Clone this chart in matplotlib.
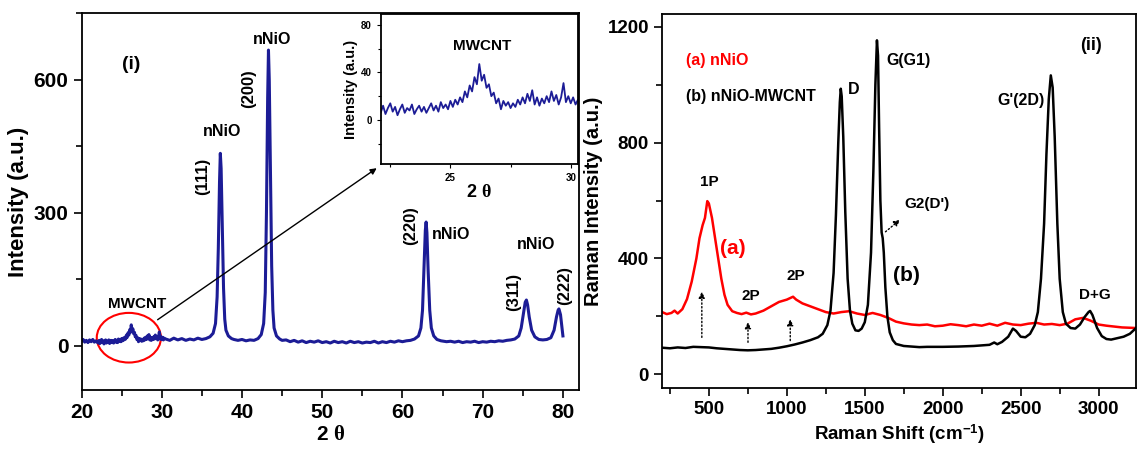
import numpy as np
import matplotlib
matplotlib.use('Agg')
import matplotlib.pyplot as plt
from matplotlib.patches import Ellipse
from matplotlib.ticker import MultipleLocator

plt.rcParams.update({
    'font.family': ['Liberation Sans', 'DejaVu Sans'],
    'font.weight': 'bold',
    'axes.labelweight': 'bold',
    'mathtext.fontset': 'custom',
    'mathtext.rm': 'Liberation Sans:bold',
    'mathtext.bf': 'Liberation Sans:bold',
    'mathtext.it': 'Liberation Serif',
    'axes.linewidth': 1.3,
    'xtick.direction': 'out',
    'ytick.direction': 'out',
})

# ---- XRD pattern (panel i) ----
xrd_x = [20.0, 20.2, 20.4, 20.6, 20.8, 21.0, 21.2, 21.4, 21.6, 21.8, 22.0,
         22.1, 22.2, 22.3, 22.4, 22.5, 22.6, 22.7, 22.8, 22.9, 23.0,
         23.1, 23.2, 23.3, 23.4, 23.5, 23.6, 23.7, 23.8, 23.9, 24.0,
         24.1, 24.2, 24.3, 24.4, 24.5, 24.6, 24.7, 24.8, 24.9, 25.0,
         25.1, 25.2, 25.3, 25.4, 25.5, 25.6, 25.7, 25.8, 25.9, 26.0,
         26.1, 26.2, 26.3, 26.4, 26.5, 26.6, 26.7, 26.8, 26.9, 27.0,
         27.1, 27.2, 27.3, 27.4, 27.5, 27.6, 27.7, 27.8, 27.9, 28.0,
         28.1, 28.2, 28.3, 28.4, 28.5, 28.6, 28.7, 28.8, 28.9, 29.0,
         29.1, 29.2, 29.3, 29.4, 29.5, 29.6, 29.7, 29.8, 29.9, 30.0,
         30.1, 30.2, 30.3,
         30.5, 31.0, 31.5, 32.0, 32.5, 33.0, 33.5, 34.0, 34.5, 35.0, 35.5,
         36.0, 36.4, 36.7, 36.9, 37.05, 37.2, 37.3, 37.4, 37.55, 37.7, 37.85,
         38.0, 38.3, 38.7, 39.0, 39.5, 40.0, 40.5, 41.0, 41.5, 42.0,
         42.4, 42.7, 42.9, 43.05, 43.2, 43.3, 43.4, 43.55, 43.7, 43.85,
         44.0, 44.3, 44.7, 45.0, 45.5, 46.0, 46.5, 47.0, 47.5, 48.0, 48.5,
         49.0, 49.5, 50.0, 50.5, 51.0, 51.5, 52.0, 52.5, 53.0, 53.5, 54.0,
         54.5, 55.0, 55.5, 56.0, 56.5, 57.0, 57.5, 58.0, 58.5, 59.0, 59.5,
         60.0, 60.5, 61.0, 61.5, 62.0, 62.3, 62.5, 62.7, 62.85, 62.95, 63.05,
         63.2, 63.4, 63.6, 63.9, 64.3, 64.8, 65.5, 66.0, 66.5, 67.0, 67.5,
         68.0, 68.5, 69.0, 69.5, 70.0, 70.5, 71.0, 71.5, 72.0, 72.5, 73.0,
         73.5, 74.0, 74.5, 74.8, 75.1, 75.3, 75.45, 75.6, 75.8, 76.1, 76.5,
         77.0, 77.5, 78.0, 78.5, 78.9, 79.2, 79.4, 79.5, 79.7, 79.85, 80.0]
xrd_y = [10, 14, 8, 12, 7, 13, 9, 14, 8, 11, 7,
         6, 12, 5, 10, 14, 7, 11, 4, 9, 13,
         6, 10, 8, 13, 5, 9, 12, 7, 11, 6,
         10, 14, 8, 12, 7, 15, 10, 13, 9, 16,
         11, 17, 13, 19, 15, 24, 19, 29, 24, 36,
         30, 47, 33, 38, 27, 30, 20, 23, 14, 18,
         9, 16, 12, 15, 10, 14, 11, 17, 13, 19,
         14, 22, 16, 25, 13, 19, 12, 18, 14, 20,
         15, 24, 16, 21, 13, 19, 31, 15, 20, 14,
         19, 13, 17,
         15, 12, 17, 13, 16, 12, 15, 13, 17, 14, 16,
         20, 28, 50, 110, 220, 370, 434, 400, 260, 130, 60,
         35, 22, 16, 14, 12, 14, 11, 13, 12, 16,
         25, 50, 120, 300, 560, 667, 600, 380, 180, 80,
         40, 22, 15, 12, 13, 9, 12, 8, 11, 7, 10,
         8, 11, 7, 9, 6, 10, 7, 9, 6, 10, 7,
         9, 6, 8, 7, 10, 6, 9, 7, 10, 8, 11,
         9, 11, 12, 15, 22, 40, 80, 180, 260, 279, 255,
         170, 80, 40, 22, 14, 11, 9, 10, 8, 10, 7,
         9, 8, 10, 7, 9, 8, 10, 9, 11, 10, 12,
         13, 15, 22, 40, 75, 98, 103, 92, 65, 35, 20,
         14, 13, 14, 18, 35, 65, 80, 83, 70, 45, 22]

# ---- Raman spectra (panel ii) ----
raman_b_x = [200, 250, 300, 350, 400, 450, 500, 550, 600, 650, 700, 750, 800,
             850, 900, 950, 1000, 1050, 1100, 1150, 1200, 1230, 1260, 1280,
             1300, 1315, 1330, 1340, 1346, 1352, 1362, 1375, 1390, 1405, 1420,
             1440, 1460, 1480, 1500, 1520, 1540, 1555, 1568, 1578, 1585, 1592,
             1600, 1608, 1615, 1622, 1632, 1645, 1660, 1680, 1700, 1750, 1800,
             1850, 1900, 2000, 2100, 2200, 2300, 2330, 2350, 2380, 2420, 2450,
             2470, 2500, 2530, 2560, 2590, 2610, 2630, 2650, 2665, 2680, 2693,
             2705, 2718, 2735, 2750, 2770, 2790, 2820, 2850, 2880, 2910, 2935,
             2945, 2960, 2990, 3020, 3050, 3080, 3120, 3160, 3200, 3240]
raman_b_y = [92, 90, 93, 91, 95, 94, 93, 90, 88, 86, 84, 83, 84,
             86, 88, 92, 97, 103, 110, 118, 128, 140, 170, 220,
             350, 550, 800, 940, 986, 960, 820, 560, 330, 220, 175,
             152, 150, 158, 180, 240, 420, 700, 1000, 1153, 1100, 850,
             600, 490, 470, 420, 300, 200, 145, 118, 105, 98, 96,
             94, 95, 95, 96, 98, 102, 110, 104, 112, 130, 158,
             150, 130, 128, 140, 170, 215, 330, 520, 760, 950, 1032,
             990, 820, 520, 330, 215, 175, 160, 158, 172, 198, 215,
             219, 205, 160, 132, 122, 120, 125, 130, 140, 160]

raman_a_x = [200, 230, 260, 280, 300, 330, 360, 390, 420, 440, 460, 475, 490,
             500, 520, 540, 560, 580, 600, 620, 650, 680, 710, 740, 770, 800,
             850, 900, 950, 1000, 1040, 1060, 1100, 1150, 1200, 1250, 1300,
             1350, 1400, 1450, 1500, 1550, 1600, 1650, 1700, 1750, 1800, 1850,
             1900, 1950, 2000, 2050, 2100, 2150, 2200, 2250, 2300, 2350, 2400,
             2450, 2500, 2550, 2600, 2650, 2700, 2750, 2800, 2850, 2900, 2950,
             3000, 3050, 3100, 3150, 3240]
raman_a_y = [215, 208, 212, 220, 210, 225, 260, 320, 400, 470, 515, 540, 598,
             590, 540, 470, 400, 330, 275, 240, 218, 212, 208, 213, 207, 210,
             220, 235, 250, 258, 268, 258, 245, 235, 225, 215, 210,
             215, 218, 210, 205, 212, 205, 195, 182, 176, 172, 170,
             172, 166, 168, 173, 170, 166, 172, 168, 175, 168, 178,
             172, 170, 175, 178, 172, 174, 170, 175, 190, 195, 185,
             172, 168, 165, 162, 160]

navy = '#1c1c96'

fig = plt.figure(figsize=(11.37, 4.49), dpi=100)

# ================= panel (i) =================
ax1 = fig.add_axes([0.0717, 0.1314, 0.4375, 0.839])
ax1.plot(xrd_x, xrd_y, color=navy, lw=2.2)
ax1.set_xlim(20, 82)
ax1.set_ylim(-100, 750)
ax1.xaxis.set_major_locator(MultipleLocator(10))
ax1.xaxis.set_minor_locator(MultipleLocator(5))
ax1.yaxis.set_major_locator(MultipleLocator(300))
ax1.yaxis.set_minor_locator(MultipleLocator(150))
ax1.tick_params(which='major', length=6, width=1.2, labelsize=15)
ax1.tick_params(which='minor', length=4, width=1.2)
ax1.set_xlabel(r'2 $\theta$', fontsize=15, labelpad=2)
ax1.set_ylabel('Intensity (a.u.)', fontsize=16, labelpad=3)

ax1.text(26.2, 634, '(i)', fontsize=14, ha='center', va='center')
ax1.text(26.9, 94, 'MWCNT', fontsize=11, ha='center', va='center')
ax1.text(37.5, 484, 'nNiO', fontsize=11.5, ha='center', va='center')
ax1.text(35.1, 383, '(111)', fontsize=12, rotation=90, ha='center', va='center')
ax1.text(43.8, 691, 'nNiO', fontsize=11.5, ha='center', va='center')
ax1.text(40.8, 581, '(200)', fontsize=12, rotation=90, ha='center', va='center')
ax1.text(61.0, 270, '(220)', fontsize=12, rotation=90, ha='center', va='center')
ax1.text(66.0, 251, 'nNiO', fontsize=11.5, ha='center', va='center')
ax1.text(76.6, 229, 'nNiO', fontsize=11.5, ha='center', va='center')
ax1.text(73.9, 121, '(311)', fontsize=12, rotation=90, ha='center', va='center')
ax1.text(80.2, 136, '(222)', fontsize=12, rotation=90, ha='center', va='center')

ax1.add_patch(Ellipse((25.9, 18), 8, 112, fill=False, edgecolor='red', lw=1.5))
ax1.annotate('', xy=(0.598, 0.593), xycoords='axes fraction',
             xytext=(29.2, 55), textcoords='data',
             arrowprops=dict(arrowstyle='-|>', color='black', lw=1.0,
                             mutation_scale=9))

# inset
axi = fig.add_axes([0.3348, 0.6347, 0.1735, 0.334])
axi.plot(xrd_x, xrd_y, color=navy, lw=1.3)
axi.set_xlim(22.1, 30.3)
axi.set_ylim(-37, 89)
axi.xaxis.set_major_locator(MultipleLocator(5))
axi.xaxis.set_minor_locator(MultipleLocator(2.5))
axi.yaxis.set_major_locator(MultipleLocator(40))
axi.yaxis.set_minor_locator(MultipleLocator(20))
axi.tick_params(which='major', length=3, width=0.8, labelsize=7)
axi.tick_params(which='minor', length=2, width=0.8)
axi.set_xlabel(r'2 $\theta$', fontsize=13, labelpad=1)
axi.set_ylabel('Intensity (a.u.)', fontsize=10.5, labelpad=2)
axi.text(26.3, 62, 'MWCNT', fontsize=11, ha='center', va='center')

# ================= panel (ii) =================
ax2 = fig.add_axes([0.5823, 0.1359, 0.4169, 0.833])
ax2.plot(raman_a_x, raman_a_y, color='red', lw=1.8)
ax2.plot(raman_b_x, raman_b_y, color='black', lw=1.8)
ax2.set_xlim(200, 3240)
ax2.set_ylim(-47, 1244)
ax2.xaxis.set_major_locator(MultipleLocator(500))
ax2.xaxis.set_minor_locator(MultipleLocator(250))
ax2.yaxis.set_major_locator(MultipleLocator(400))
ax2.yaxis.set_minor_locator(MultipleLocator(200))
ax2.tick_params(which='major', length=6, width=1.2, labelsize=13.5)
ax2.tick_params(which='minor', length=4, width=1.2)
ax2.set_xlabel(r'Raman Shift (cm$^{\mathrm{-1}}$)', fontsize=13.5, labelpad=3)
ax2.set_ylabel('Raman Intensity (a.u.)', fontsize=14.5, labelpad=3)

ax2.text(355, 1084, '(a) nNiO', color='red', fontsize=11.5, ha='left', va='center')
ax2.text(355, 960, '(b) nNiO-MWCNT', fontsize=11.5, ha='left', va='center')
ax2.text(1431, 983, 'D', fontsize=11.5, ha='center', va='center')
ax2.text(1781, 1084, 'G(G1)', fontsize=11.5, ha='center', va='center')
ax2.text(2948, 1135, '(ii)', fontsize=13, ha='center', va='center')
ax2.text(2503, 946, "G'(2D)", fontsize=11.5, ha='center', va='center')
ax2.text(501, 664, '1P', fontsize=11, ha='center', va='center')
ax2.text(651, 434, '(a)', color='red', fontsize=15, ha='center', va='center')
ax2.text(1897, 587, "G2(D')", fontsize=11, ha='center', va='center')
ax2.text(1767, 342, '(b)', fontsize=15, ha='center', va='center')
ax2.text(772, 271, '2P', fontsize=11, ha='center', va='center')
ax2.text(1056, 339, '2P', fontsize=11, ha='center', va='center')
ax2.text(2978, 273, 'D+G', fontsize=11, ha='center', va='center')

dotted = dict(arrowstyle='-|>', color='black', lw=1.0, linestyle=':',
              mutation_scale=9)
for x0, y0, y1 in [(455, 118, 295), (751, 101, 190), (1022, 107, 200)]:
    ax2.annotate('', xy=(x0, y1), xytext=(x0, y0), arrowprops=dotted)
ax2.annotate('', xy=(1740, 540), xytext=(1619, 486), arrowprops=dotted)

fig.savefig('out.png', dpi=100)
